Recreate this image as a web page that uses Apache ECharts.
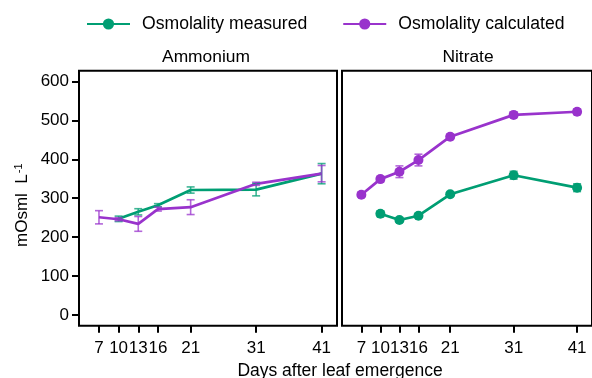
<!DOCTYPE html>
<html>
<head>
<meta charset="utf-8">
<script src="https://cdn.jsdelivr.net/npm/echarts@6/dist/echarts.min.js"></script>
<style>
  html, body { margin: 0; padding: 0; background: #fff; }
  #chart { width: 592px; height: 378px; }
</style>
</head>
<body>
<div id="chart"></div>
<script>
// days after leaf emergence
const days = [7, 10, 13, 16, 21, 31, 41]
const yTicks = [0, 100, 200, 300, 400, 500, 600]

// Ammonium panel (mean, error)
const ammMeasured    = [null, 247, 265, 282, 321, 322, 363]
const ammMeasuredErr = [null, 7, 8, 4, 8, 16, 26]
const ammCalc        = [251, 246, 234, 272, 277, 337, 363]
const ammCalcErr     = [17, 4, 19, 5, 19, 4, 21]

// Nitrate panel
const nitMeasured    = [null, 260, 244, 255, 310, 359, 327]
const nitMeasuredErr = [null, 7, 5, 5, 4, 10, 10]
const nitCalc        = [309, 349, 368, 398, 458, 514, 522]
const nitCalcErr     = [6, 7, 15, 15, 6, 7, 7]

const GREEN  = '#009E73'
const PURPLE = '#9933CC'
const FONT   = 'Liberation Sans, Arial, sans-serif'

const pairs = vals => days.map((d, i) => [d, vals[i]])
const errRows = (vals, errs) => days
  .map((d, i) => vals[i] == null ? null : [d, vals[i] - errs[i], vals[i] + errs[i]])
  .filter(r => r)

function errorBar(params, api) {
  const x = api.value(0)
  const lo = api.coord([x, api.value(1)])
  const hi = api.coord([x, api.value(2)])
  const hw = 4
  const style = { stroke: api.visual('color'), lineWidth: 1.6, opacity: 0.75 }
  return {
    type: 'group',
    children: [
      { type: 'line', shape: { x1: lo[0], y1: lo[1], x2: hi[0], y2: hi[1] }, style },
      { type: 'line', shape: { x1: hi[0] - hw, y1: hi[1], x2: hi[0] + hw, y2: hi[1] }, style },
      { type: 'line', shape: { x1: lo[0] - hw, y1: lo[1], x2: lo[0] + hw, y2: lo[1] }, style },
    ],
  }
}

const chart = echarts.init(document.getElementById('chart'), null, { renderer: 'canvas' })

const xAxisBase = gi => ({
  type: 'value', gridIndex: gi, min: 3.95, max: 43.35,
  axisLine: { show: false, onZero: false },
  splitLine: { show: false },
  axisTick: { show: true, length: 7, lineStyle: { color: '#000', width: 2 }, customValues: days },
  axisLabel: { color: '#000', fontSize: 17, fontFamily: FONT, margin: 14, customValues: days },
})

const yAxisBase = gi => ({
  type: 'value', gridIndex: gi, min: -27.5, max: 627.5,
  axisLine: { show: false, onZero: false },
  splitLine: { show: false },
  axisTick: { show: gi === 0, length: 7, lineStyle: { color: '#000', width: 2 }, customValues: yTicks },
  axisLabel: { show: gi === 0, color: '#000', fontSize: 17, fontFamily: FONT, margin: 10, customValues: yTicks },
})

const lineSeries = (name, gi, vals, color, withSymbol) => ({
  name, type: 'line', xAxisIndex: gi, yAxisIndex: gi,
  data: pairs(vals),
  symbol: withSymbol ? 'circle' : 'none', symbolSize: 10,
  lineStyle: { color, width: 2.7 },
  itemStyle: { color },
  z: 2,
})

const errSeries = (name, gi, vals, errs, color) => ({
  name, type: 'custom', xAxisIndex: gi, yAxisIndex: gi,
  data: errRows(vals, errs),
  encode: { x: 0, y: [1, 2] },
  renderItem: errorBar,
  itemStyle: { color },
  z: 3,
})

const option = {
  animation: false,
  backgroundColor: '#fff',
  textStyle: { fontFamily: FONT },
  legend: {
    data: ['Osmolality measured', 'Osmolality calculated'],
    left: 86, top: 15, padding: 0,
    itemWidth: 43, itemHeight: 14, itemGap: 35,
    textStyle: { color: '#000', fontSize: 17.6, fontFamily: FONT, padding: [0, 0, 0, 7] },
  },
  grid: [
    { left: 79, top: 70.7, width: 258, height: 255, show: true, borderColor: '#000', borderWidth: 2, backgroundColor: 'transparent' },
    { left: 342, top: 70.7, width: 258, height: 255, show: true, borderColor: '#000', borderWidth: 2, backgroundColor: 'transparent' },
  ],
  xAxis: [xAxisBase(0), xAxisBase(1)],
  yAxis: [
    Object.assign(yAxisBase(0), {
      name: 'mOsml  L{sup|-1}', nameLocation: 'middle', nameGap: 47,
      nameTextStyle: {
        color: '#000', fontSize: 17, fontFamily: FONT,
        rich: { sup: { fontSize: 11, verticalAlign: 'top', color: '#000', fontFamily: FONT, padding: [0, 14, 8, 1] } },
      },
    }),
    yAxisBase(1),
  ],
  graphic: [
    { type: 'text', x: 206, y: 57, style: { text: 'Ammonium', fill: '#000', fontSize: 17.4, fontFamily: FONT, textAlign: 'center', textVerticalAlign: 'middle' } },
    { type: 'text', x: 468, y: 57, style: { text: 'Nitrate', fill: '#000', fontSize: 17.4, fontFamily: FONT, textAlign: 'center', textVerticalAlign: 'middle' } },
    { type: 'text', x: 340, y: 371, style: { text: 'Days after leaf emergence', fill: '#000', fontSize: 17.5, fontFamily: FONT, textAlign: 'center', textVerticalAlign: 'middle' } },
  ],
  series: [
    lineSeries('Osmolality measured', 1, nitMeasured, GREEN, true),
    lineSeries('Osmolality calculated', 1, nitCalc, PURPLE, true),
    errSeries('measured err N', 1, nitMeasured, nitMeasuredErr, GREEN),
    errSeries('calculated err N', 1, nitCalc, nitCalcErr, PURPLE),
    lineSeries('Osmolality measured', 0, ammMeasured, GREEN, false),
    lineSeries('Osmolality calculated', 0, ammCalc, PURPLE, false),
    errSeries('measured err A', 0, ammMeasured, ammMeasuredErr, GREEN),
    errSeries('calculated err A', 0, ammCalc, ammCalcErr, PURPLE),
  ],
}

chart.setOption(option)
</script>
</body>
</html>
